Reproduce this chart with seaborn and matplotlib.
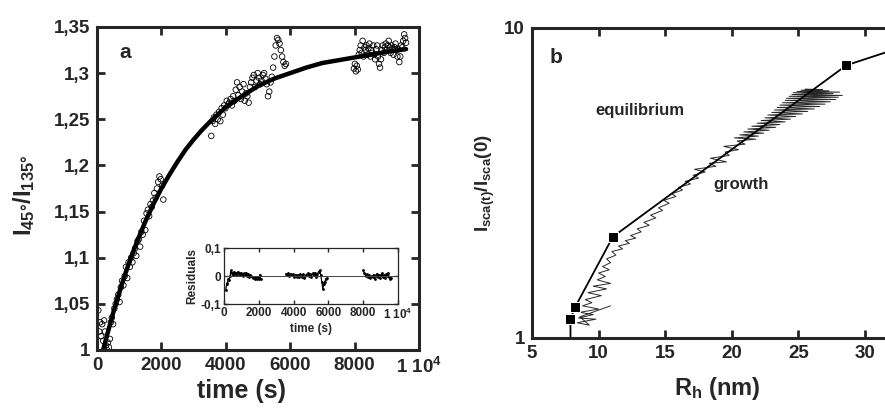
import numpy as np
import pandas as pd
import seaborn as sns
import matplotlib.pyplot as plt

# ---- panel a: anisotropy ratio vs time ----
t1 = [40, 70, 100, 130, 160, 190, 220, 250, 280, 310, 340, 370, 400, 430, 460, 500, 540, 580,
      620, 660, 700, 740, 780, 820, 860, 900, 940, 980, 1020, 1060, 1100, 1140, 1180, 1220,
      1260, 1300, 1340, 1380, 1420, 1460, 1500, 1540, 1580, 1620, 1660, 1700, 1740, 1780,
      1820, 1860, 1900, 1940, 1980, 2020, 2060]
y1 = [1.043, 1.02, 1.03, 1.015, 1.028, 1.01, 1.032, 1.02, 1.005, 1.0, 1.008, 1.003, 1.012,
      1.03, 1.035, 1.028, 1.045, 1.05, 1.055, 1.06, 1.052, 1.068, 1.075, 1.07, 1.08, 1.09,
      1.078, 1.095, 1.09, 1.1, 1.095, 1.105, 1.11, 1.102, 1.118, 1.12, 1.112, 1.128, 1.125,
      1.14, 1.13, 1.148, 1.152, 1.145, 1.158, 1.155, 1.162, 1.17, 1.165, 1.175, 1.182,
      1.188, 1.185, 1.178, 1.163]
t2 = [3550, 3590, 3630, 3670, 3710, 3750, 3790, 3830, 3870, 3910, 3950, 3990, 4030, 4070,
      4110, 4150, 4190, 4230, 4270, 4310, 4350, 4390, 4430, 4470, 4510, 4550, 4590, 4630,
      4670, 4710, 4750, 4790, 4830, 4870, 4910, 4950, 4990, 5030, 5070, 5110, 5150, 5190,
      5230, 5270, 5310, 5350, 5390, 5430, 5470, 5510, 5550, 5590, 5630, 5670, 5710, 5750,
      5790, 5830, 5870]
y2 = [1.232, 1.248, 1.252, 1.245, 1.255, 1.25, 1.258, 1.248, 1.262, 1.255, 1.265, 1.262,
      1.27, 1.266, 1.268, 1.272, 1.265, 1.275, 1.27, 1.282, 1.29, 1.276, 1.285, 1.272, 1.28,
      1.288, 1.27, 1.278, 1.275, 1.268, 1.285, 1.29, 1.295, 1.298, 1.285, 1.292, 1.3, 1.295,
      1.288, 1.292, 1.298, 1.3, 1.294, 1.288, 1.275, 1.28, 1.29, 1.296, 1.306, 1.318, 1.33,
      1.338, 1.336, 1.332, 1.325, 1.318, 1.312, 1.308, 1.31]
t3 = [7980, 8010, 8040, 8070, 8100, 8130, 8160, 8190, 8220, 8250, 8280, 8310, 8340, 8370,
      8400, 8430, 8460, 8490, 8520, 8550, 8580, 8610, 8640, 8670, 8700, 8730, 8760, 8790,
      8820, 8850, 8880, 8910, 8940, 8970, 9000, 9030, 9060, 9090, 9120, 9150, 9180, 9210,
      9240, 9270, 9300, 9330, 9360, 9390, 9420, 9450, 9480, 9510, 9540, 9570, 9600]
y3 = [1.305, 1.31, 1.302, 1.308, 1.304, 1.32, 1.325, 1.33, 1.322, 1.335, 1.318, 1.328, 1.325,
      1.33, 1.32, 1.327, 1.332, 1.318, 1.325, 1.322, 1.33, 1.32, 1.315, 1.326, 1.33, 1.318,
      1.31, 1.306, 1.315, 1.325, 1.33, 1.322, 1.328, 1.332, 1.325, 1.33, 1.335, 1.328, 1.322,
      1.33, 1.326, 1.32, 1.328, 1.332, 1.325, 1.318, 1.326, 1.312, 1.318, 1.33, 1.328, 1.335,
      1.342, 1.338, 1.333]

fit_t = [190, 250, 500, 750, 1000, 1250, 1500, 1750, 2000, 2250, 2500, 2750, 3000, 3250,
         3500, 3750, 4000, 4500, 5000, 5500, 6000, 6500, 7000, 7500, 8000, 8500, 9000, 9600]
fit_y = [1.0, 1.008, 1.04, 1.069, 1.095, 1.118, 1.139, 1.158, 1.175, 1.19, 1.204, 1.217,
         1.228, 1.238, 1.247, 1.255, 1.263, 1.275, 1.286, 1.294, 1.3, 1.306, 1.311, 1.314,
         1.317, 1.32, 1.323, 1.326]

# residuals (inset)
r1_t = [100, 150, 200, 250, 300, 350, 400, 450, 500, 560, 620, 680, 740, 800, 860, 920, 980,
        1040, 1100, 1160, 1220, 1280, 1340, 1400, 1460, 1520, 1580, 1640, 1700, 1760, 1820,
        1880, 1940, 2000, 2060, 2100]
r1_v = [-0.05, -0.03, -0.025, -0.01, -0.015, 0.0, 0.02, 0.01, 0.005, 0.015, 0.008, 0.012,
        0.005, 0.015, 0.01, 0.005, 0.012, 0.008, 0.0, 0.01, 0.005, 0.012, 0.0, 0.008, -0.005,
        0.005, 0.0, -0.008, -0.003, -0.01, -0.005, -0.012, -0.005, -0.01, 0.005, -0.01]
r2_t = [3550, 3620, 3690, 3760, 3830, 3900, 3970, 4040, 4110, 4180, 4250, 4320, 4390, 4460,
        4530, 4600, 4670, 4740, 4810, 4880, 4950, 5020, 5090, 5160, 5230, 5300, 5370, 5440,
        5500, 5560, 5620, 5680, 5740, 5800, 5860, 5900]
r2_v = [0.008, 0.005, 0.01, 0.0, 0.008, 0.002, 0.006, -0.004, 0.005, -0.002, 0.004, -0.005,
        0.008, -0.003, 0.006, -0.006, 0.0, 0.005, 0.01, 0.0, 0.008, -0.004, 0.01, 0.002,
        0.012, -0.005, 0.008, 0.015, 0.02, 0.005, -0.02, -0.045, -0.03, -0.02, -0.01, -0.008]
r3_t = [8000, 8060, 8120, 8180, 8240, 8300, 8360, 8420, 8480, 8540, 8600, 8660, 8720, 8780,
        8840, 8900, 8960, 9020, 9080, 9140, 9200, 9260, 9320, 9380, 9440, 9500, 9560, 9620]
r3_v = [0.02, 0.012, 0.008, 0.0, 0.006, -0.005, 0.004, -0.008, 0.0, -0.005, 0.005, -0.01,
        0.0, 0.008, -0.003, 0.005, -0.006, 0.002, 0.01, -0.004, 0.004, -0.008, 0.006, 0.0,
        0.012, -0.005, -0.012, -0.008]

# ---- panel b: scattered intensity vs hydrodynamic radius ----
eq_rh = [7.89, 7.89, 8.23, 11.07, 28.6, 32.5]
eq_ratio = [1.0, 1.149, 1.256, 2.12, 7.58, 8.6]

growth_rh = [10.9, 8.6, 9.3, 8.4, 9.8, 8.5, 9.6, 8.6, 10.0, 8.8, 9.5, 9.0, 10.2, 9.2, 10.6,
             9.6, 10.9, 9.9, 10.5, 10.0, 10.8, 10.3, 10.9, 10.6, 11.3, 11.0, 11.8, 11.5, 12.3,
             12.0, 12.8, 12.4, 13.2, 12.9, 13.8, 13.4, 14.3, 13.9, 14.8, 14.5, 15.3, 14.9,
             15.8, 15.5, 16.3, 16.0, 16.9, 16.5, 17.5, 17.1, 18.0, 17.2, 18.8, 18.3, 19.6,
             18.4, 19.8, 19.5, 20.5, 19.4, 21.0, 20.4,
             21.8, 20.2, 22.0, 20.6, 22.4, 20.9, 22.8, 21.2, 23.3, 21.5, 23.6, 21.9, 24.0,
             22.2, 24.4, 22.5, 24.8, 22.7, 25.3, 23.0, 25.7, 23.2, 26.2, 23.4, 26.6, 23.6,
             27.0, 23.8, 27.4, 24.0, 27.8, 24.1, 28.0, 24.3, 28.3, 24.5, 27.6, 24.6, 28.1,
             24.9, 27.3, 25.2, 26.8, 25.5]
growth_ratio = [1.27, 1.17, 1.10, 1.12, 1.15, 1.16, 1.19, 1.21, 1.24, 1.27, 1.30, 1.33, 1.37,
                1.40, 1.44, 1.47, 1.50, 1.54, 1.58, 1.62, 1.66, 1.70, 1.75, 1.80, 1.85, 1.90,
                1.94, 1.98, 2.02, 2.06, 2.10, 2.14, 2.20, 2.25, 2.31, 2.36, 2.44, 2.49, 2.58,
                2.63, 2.72, 2.78, 2.86, 2.92, 3.00, 3.06, 3.14, 3.20, 3.28, 3.35, 3.43, 3.50,
                3.58, 3.66, 3.70, 3.80, 3.88, 3.98, 4.05, 4.15, 4.22, 4.32,
                4.38, 4.42, 4.48, 4.52, 4.58, 4.62, 4.68, 4.72, 4.78, 4.82, 4.88, 4.93, 4.98,
                5.03, 5.08, 5.13, 5.18, 5.24, 5.28, 5.34, 5.38, 5.44, 5.48, 5.54, 5.58, 5.64,
                5.68, 5.74, 5.78, 5.84, 5.88, 5.93, 5.98, 6.02, 6.06, 6.10, 6.14, 6.18, 6.21,
                6.24, 6.27, 6.30, 6.33, 6.35]

sns.set_style("ticks")
plt.rcParams['font.family'] = ['Liberation Sans', 'DejaVu Sans']
plt.rcParams['font.weight'] = 'bold'
plt.rcParams['axes.labelweight'] = 'bold'
plt.rcParams['mathtext.fontset'] = 'custom'
plt.rcParams['mathtext.rm'] = 'Liberation Sans:bold'
plt.rcParams['mathtext.it'] = 'Liberation Sans:bold'
plt.rcParams['mathtext.bf'] = 'Liberation Sans:bold'

fig = plt.figure(figsize=(8.85, 4.09), dpi=100)
axa = fig.add_axes([0.1096, 0.1443, 0.3638, 0.7897])
axb = fig.add_axes([0.6011, 0.1736, 0.3989, 0.758])
axi = fig.add_axes([0.2531, 0.2567, 0.1966, 0.1369])

# panel a
pts = pd.DataFrame({'t': t1 + t2 + t3, 'y': y1 + y2 + y3})
sns.scatterplot(data=pts, x='t', y='y', ax=axa, marker='o', s=16,
                facecolors='none', edgecolor='black', linewidth=0.6)
sns.lineplot(x=fit_t, y=fit_y, ax=axa, color='black', lw=3.2, sort=False, estimator=None,
             solid_capstyle='round', solid_joinstyle='round')
axa.set_xlim(0, 10000)
axa.set_ylim(1, 1.35)
axa.set_xticks([0, 2000, 4000, 6000, 8000, 10000])
axa.set_xticklabels(['0', '2000', '4000', '6000', '8000', '1 10$^{4}$'])
axa.set_yticks([1, 1.05, 1.1, 1.15, 1.2, 1.25, 1.3, 1.35])
axa.set_yticklabels(['1', '1,05', '1,1', '1,15', '1,2', '1,25', '1,3', '1,35'])
axa.tick_params(direction='in', length=6, width=2, top=True, right=True, labelsize=13.5, pad=5)
for sp in axa.spines.values():
    sp.set_linewidth(2.2)
axa.set_xlabel('time (s)', fontsize=18)
axa.xaxis.set_label_coords(0.45, -0.09)
axa.set_ylabel('I$_{45°}$/I$_{135°}$', fontsize=17)
axa.yaxis.set_label_coords(-0.185, 0.48)
axa.text(0.087, 0.92, 'a', transform=axa.transAxes, fontsize=15, fontweight='bold',
         ha='center', va='center')

# inset residuals
for rt, rv in [(r1_t, r1_v), (r2_t, r2_v), (r3_t, r3_v)]:
    sns.lineplot(x=rt, y=rv, ax=axi, color='black', lw=0.9, marker='o', markersize=2,
                 markeredgewidth=0, sort=False, estimator=None)
axi.axhline(0, color='#444444', lw=0.7)
axi.set_xlim(0, 10000)
axi.set_ylim(-0.1, 0.1)
axi.set_xticks([0, 2000, 4000, 6000, 8000, 10000])
axi.set_xticklabels(['0', '2000', '4000', '6000', '8000', '1 10$^{4}$'])
axi.set_yticks([-0.1, 0, 0.1])
axi.set_yticklabels(['-0,1', '0', '0,1'])
axi.tick_params(direction='in', length=3, width=1, top=True, right=True, labelsize=8.5, pad=2)
for sp in axi.spines.values():
    sp.set_linewidth(0.9)
axi.set_xlabel('time (s)', fontsize=8.5, labelpad=1)
axi.set_ylabel('Residuals', fontsize=8.5, labelpad=2)

# panel b
sns.lineplot(x=growth_rh, y=growth_ratio, ax=axb, color='#2a2a2a', lw=0.7, sort=False,
             estimator=None)
sns.lineplot(x=eq_rh, y=eq_ratio, ax=axb, color='black', lw=1.3, marker='s', markersize=6.5,
             markevery=[1, 2, 3, 4, 5], sort=False, estimator=None)
axb.set_yscale('log')
axb.set_xlim(5, 31.5)
axb.set_ylim(1, 10)
axb.set_xticks([5, 10, 15, 20, 25, 30])
axb.set_yticks([1, 10])
axb.set_yticklabels(['1', '10'])
axb.minorticks_off()
axb.tick_params(direction='in', length=6, width=2, top=True, right=False, labelsize=13.5, pad=5)
axb.tick_params(axis='y', length=0)
for sp in axb.spines.values():
    sp.set_linewidth(2.2)
axb.spines['right'].set_visible(False)
axb.set_xlabel('R$_h$ (nm)', fontsize=17)
axb.xaxis.set_label_coords(0.524, -0.12)
axb.set_ylabel('I$_{sca(t)}$/I$_{sca}$(0)', fontsize=13.5)
axb.yaxis.set_label_coords(-0.1, 0.5)
axb.text(0.068, 0.906, 'b', transform=axb.transAxes, fontsize=15, fontweight='bold',
         ha='center', va='center')
axb.text(0.305, 0.735, 'equilibrium', transform=axb.transAxes, fontsize=12,
         fontweight='bold', ha='center', va='center')
axb.text(0.593, 0.496, 'growth', transform=axb.transAxes, fontsize=12,
         fontweight='bold', ha='center', va='center')

fig.savefig('out.png', dpi=100)
